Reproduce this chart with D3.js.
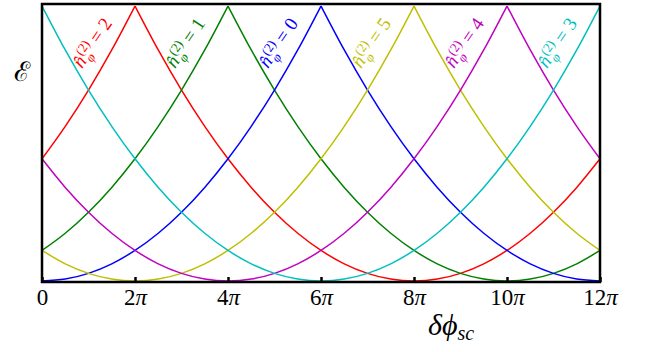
<!DOCTYPE html>
<html>
<head>
<meta charset="utf-8">
<script src="https://cdn.jsdelivr.net/npm/d3@7"></script>
<style>
  body { margin: 0; background: #fff; }
  svg { display: block; }
</style>
</head>
<body>
<div id="chart"></div>
<script>
// phase offset, in units of pi
const PHASE = [0, 0.5, 1, 1.5, 2, 2.5, 3, 3.5, 4, 4.5, 5, 5.5, 6, 6.5, 7, 7.5, 8, 8.5, 9, 9.5, 10, 10.5, 11, 11.5, 12];

// energy (peak = 36)
const N0 = [0, 0.25, 1, 2.25, 4, 6.25, 9, 12.25, 16, 20.25, 25, 30.25, 36, 30.25, 25, 20.25, 16, 12.25, 9, 6.25, 4, 2.25, 1, 0.25, 0];
const N1 = [4, 6.25, 9, 12.25, 16, 20.25, 25, 30.25, 36, 30.25, 25, 20.25, 16, 12.25, 9, 6.25, 4, 2.25, 1, 0.25, 0, 0.25, 1, 2.25, 4];
const N2 = [16, 20.25, 25, 30.25, 36, 30.25, 25, 20.25, 16, 12.25, 9, 6.25, 4, 2.25, 1, 0.25, 0, 0.25, 1, 2.25, 4, 6.25, 9, 12.25, 16];
const N3 = [36, 30.25, 25, 20.25, 16, 12.25, 9, 6.25, 4, 2.25, 1, 0.25, 0, 0.25, 1, 2.25, 4, 6.25, 9, 12.25, 16, 20.25, 25, 30.25, 36];
const N4 = [16, 12.25, 9, 6.25, 4, 2.25, 1, 0.25, 0, 0.25, 1, 2.25, 4, 6.25, 9, 12.25, 16, 20.25, 25, 30.25, 36, 30.25, 25, 20.25, 16];
const N5 = [4, 2.25, 1, 0.25, 0, 0.25, 1, 2.25, 4, 6.25, 9, 12.25, 16, 20.25, 25, 30.25, 36, 30.25, 25, 20.25, 16, 12.25, 9, 6.25, 4];

// label order follows the peaks from left to right
const LABEL_N = [2, 1, 0, 5, 4, 3];
const LABEL_PEAK = [2, 4, 6, 8, 10, 12];
const LABEL_COLOR = ["#ff0000", "#008000", "#0000ff", "#bfbf00", "#bf00bf", "#00bfbf"];

const TICKS = [0, 2, 4, 6, 8, 10, 12];
const TICK_NUM = ["0", "2", "4", "6", "8", "10", "12"];

const SERIES = [
  {vals: N2, color: "#ff0000"},
  {vals: N1, color: "#008000"},
  {vals: N0, color: "#0000ff"},
  {vals: N5, color: "#bfbf00"},
  {vals: N4, color: "#bf00bf"},
  {vals: N3, color: "#00bfbf"}
];

const WIDTH = 649, HEIGHT = 352;
const LEFT = 42, RIGHT = 600, TOP = 4, BOTTOM = 282;

const svg = d3.select("#chart").append("svg")
  .attr("width", WIDTH)
  .attr("height", HEIGHT);

const X_SCALE = d3.scaleLinear().domain([0, 12]).range([LEFT, RIGHT]);
const Y_SCALE = d3.scaleLinear().domain([0, 36]).range([BOTTOM - 1, TOP + 2]);

const line = d3.line()
  .x((d) => X_SCALE(d[0]))
  .y((d) => Y_SCALE(d[1]))
  .curve(d3.curveMonotoneX);

// cut each curve at its cusps so the tops stay sharp
function pieces(vals) {
  const pts = PHASE.map((p, i) => [p, vals[i]]);
  const out = [];
  let start = 0;
  for (let i = 1; i < pts.length - 1; i++) {
    if (vals[i] >= vals[i - 1] && vals[i] >= vals[i + 1]) {
      out.push(pts.slice(start, i + 1));
      start = i;
    }
  }
  out.push(pts.slice(start));
  return out;
}

SERIES.forEach((s) => {
  svg.append("g").selectAll("path")
    .data(pieces(s.vals))
    .enter()
    .append("path")
      .attr("d", line)
      .attr("fill", "none")
      .attr("stroke", s.color)
      .attr("stroke-width", 1.5);
});

// frame
svg.append("rect")
  .attr("x", LEFT).attr("y", TOP)
  .attr("width", RIGHT - LEFT).attr("height", BOTTOM - TOP)
  .attr("fill", "none")
  .attr("stroke", "#000")
  .attr("stroke-width", 2.5);

const xAxis = svg.append("g")
  .attr("transform", "translate(0," + BOTTOM + ")")
  .call(d3.axisBottom(X_SCALE).tickValues(TICKS).tickSizeInner(-5).tickSizeOuter(0)
        .tickFormat(""));
xAxis.select(".domain").remove();
xAxis.selectAll(".tick line").attr("stroke", "#000").attr("stroke-width", 2.5);
xAxis.selectAll(".tick text").each(function(d, i) {
  const t = d3.select(this)
    .attr("y", 23)
    .attr("dy", 0)
    .attr("fill", "#000")
    .attr("font-family", "Liberation Serif")
    .attr("font-size", 23);
  t.append("tspan").text(TICK_NUM[i]);
  if (d !== 0) t.append("tspan").attr("font-style", "italic").text("π");
});

// curve labels
LABEL_N.forEach((n, i) => {
  const t = svg.append("text")
    .attr("transform", "translate(" + (X_SCALE(LABEL_PEAK[i]) - 53) + ",69) rotate(-56)")
    .attr("fill", LABEL_COLOR[i])
    .attr("font-family", "Liberation Serif")
    .attr("font-size", 19);
  t.append("tspan").attr("font-style", "italic").text("n\u0302");
  t.append("tspan").attr("font-size", 13).attr("dx", 1).attr("dy", -7).text("(2)");
  t.append("tspan").attr("font-size", 13).attr("font-style", "italic").attr("dx", -15).attr("dy", 12).text("φ");
  t.append("tspan").attr("dx", 12).attr("dy", -5).text("=");
  t.append("tspan").attr("dx", 5).text(n);
});

// axis titles
svg.append("text")
  .attr("x", 14).attr("y", 81)
  .attr("font-family", "DejaVu Serif")
  .attr("font-size", 27)
  .text("ℰ");

const xt = svg.append("text")
  .attr("x", 428).attr("y", 335)
  .attr("font-family", "Liberation Serif")
  .attr("font-style", "italic")
  .attr("font-size", 30);
xt.append("tspan").text("δϕ");
xt.append("tspan").attr("font-size", 20).attr("dy", 5).text("sc");
</script>
</body>
</html>
